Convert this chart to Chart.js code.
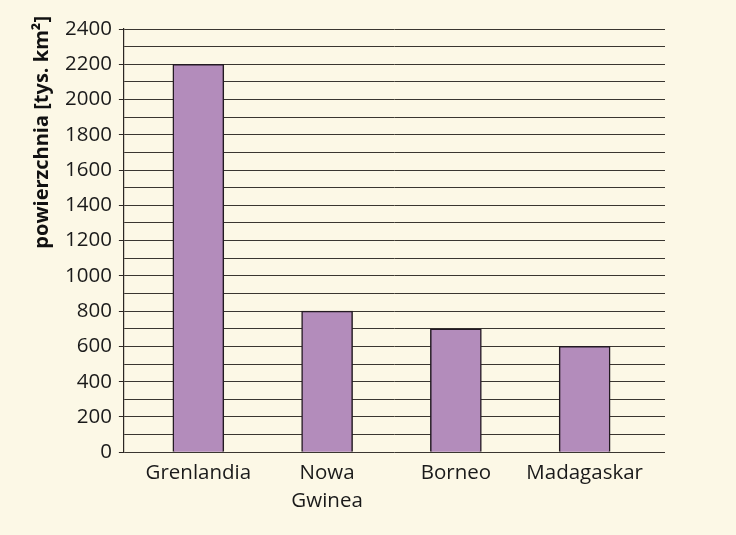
<!DOCTYPE html>
<html><head><meta charset="utf-8">
<script src="https://cdn.jsdelivr.net/npm/chart.js@4"></script>
<style>html,body{margin:0;padding:0;background:#FCF8E6;}#wrap{width:736px;height:535px;}</style>
</head><body><div id="wrap"><canvas id="c"></canvas></div>
<script>
const categories = [['Grenlandia'], ['Nowa', 'Gwinea'], ['Borneo'], ['Madagaskar']];
const areas = [2200, 800, 700, 600];
const yTitle = 'powierzchnia [tys. km²]';

const dark = '#2b2622';
const fontFam = '"Open Sans", sans-serif';

const yTitlePlugin = {
  id: 'yTitle',
  afterDraw(chart) {
    const ctx = chart.ctx;
    ctx.save();
    ctx.translate(42, 16);
    ctx.rotate(-Math.PI / 2);
    ctx.font = 'bold 20px ' + fontFam;
    ctx.fillStyle = '#111';
    ctx.textAlign = 'right';
    ctx.textBaseline = 'middle';
    ctx.fillText(yTitle, 0, 0);
    ctx.restore();
  }
};

new Chart(document.getElementById('c'), {
  type: 'bar',
  data: {
    datasets: [{
      data: areas.map((v, i) => ({x: i, y: v})),
      backgroundColor: '#B38CBB',
      borderColor: '#231a22',
      borderWidth: 1.5,
      barThickness: 51
    }]
  },
  plugins: [yTitlePlugin],
  options: {
    responsive: true,
    maintainAspectRatio: false,
    animation: false,
    layout: {padding: {left: 58, right: 71, top: 29, bottom: 13}},
    plugins: {legend: {display: false}, tooltip: {enabled: false}},
    scales: {
      x: {
        type: 'linear',
        offset: false,
        min: -0.578,
        max: 3.624,
        afterBuildTicks(scale) { scale.ticks = categories.map((_, i) => ({value: i})); },
        ticks: {
          callback: (v) => categories[v],
          font: {family: fontFam, size: 20.5, lineHeight: 1.36},
          color: '#1a1a1a',
          padding: 7,
          maxRotation: 0,
          autoSkip: false
        },
        grid: {display: false, drawTicks: false},
        border: {display: false}
      },
      y: {
        min: 0,
        max: 2400,
        ticks: {
          stepSize: 100,
          autoSkip: false,
          callback: (v) => (v % 200 === 0 ? String(v) : ''),
          font: {family: fontFam, size: 20.5},
          color: '#1a1a1a',
          padding: 7
        },
        grid: {
          color: '#3a3630',
          lineWidth: 1,
          tickLength: 5,
          tickColor: (c) => (c.tick && c.tick.value % 200 === 0 ? dark : 'rgba(0,0,0,0)')
        },
        border: {display: true, color: dark, width: 1.2}
      }
    }
  }
});
</script></body></html>
